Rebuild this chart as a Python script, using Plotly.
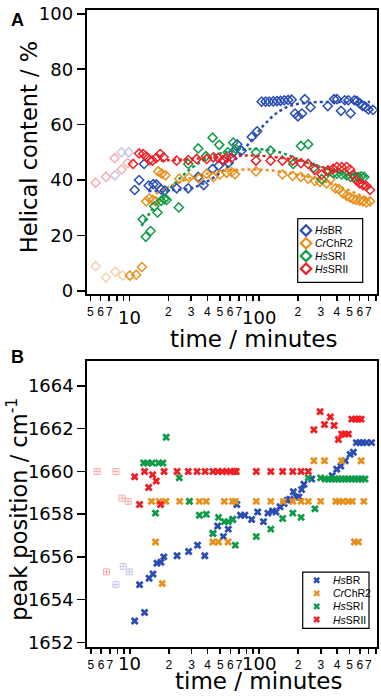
import plotly.graph_objects as go
import math

# ---------------- Panel A data: helical content (%) vs time (min) ----------------
a_br_faded_t = [7.75, 8.7, 9.9]
a_br_faded_v = [41.7, 50.0, 50.0]
a_chr_faded_t = [5.5, 6.6, 7.8, 8.9]
a_chr_faded_v = [8.9, 4.8, 6.9, 5.5]
a_srii_faded_t = [5.5, 6.6, 7.7, 8.7, 9.7]
a_srii_faded_v = [39.0, 41.1, 47.9, 43.8, 46.1]

a_br_t = [11.0, 11.9, 13.0, 14.1, 15.3, 16.2, 17.6, 18.8, 23.2, 28.5, 34, 37.5, 43.9, 49, 53.4, 58.2,
          63.4, 68, 73.5, 88, 97, 105, 112.7, 120, 129, 138, 147, 157, 168, 179, 190, 200, 215, 226,
          250, 340, 380, 400, 430, 460, 490, 510, 545, 570, 600, 630, 665, 700, 760]
a_br_v = [36.4, 40, 45.8, 38, 38.5, 38.4, 36.6, 36.2, 37, 37, 41.1, 38.2, 44, 45.2, 47, 46.2,
          50, 52.9, 50.6, 55.5, 57.6, 68.3, 68.3, 68.3, 68.4, 68.5, 68.6, 68.8, 68.9, 69.0, 64, 63, 64, 69.2,
          66.3, 66.7, 69.2, 69.2, 65, 68.8, 68.8, 64.1, 68.8, 68.6, 67.7, 66.8, 66.4, 65.5, 65.3]

a_chr_t = [10.1, 11.3, 12.5, 13.5, 14.3, 15.2, 16.0, 16.7, 17.8, 19.0, 24.3, 28.9, 34.5, 39.5, 44.5, 50,
           56.4, 61.5, 65.4, 95, 152, 182, 211, 240, 270, 296, 333, 355, 390, 415, 445, 475, 505, 535,
           565, 600, 635, 675, 720]
a_chr_v = [5.5, 5.8, 8.6, 32.3, 33.4, 32.8, 32.3, 43.1, 42.3, 41.7, 40.5, 40.9, 40.5, 42.3, 41.1, 42,
           42.6, 42.9, 42.1, 43.1, 42, 41.5, 41.1, 40.5, 39.7, 39.3, 38.8, 40.2, 37, 36.7, 35.2, 34.3, 33.7, 33.1,
           32.8, 32.6, 32.3, 31.9, 32.3]

a_sri_t = [12.7, 13.4, 14.6, 15.6, 16.5, 17.6, 18.6, 19.4, 24.1, 28.5, 34, 39, 43.9, 49.4, 57.5, 63.4,
           66.5, 95, 123, 184, 211, 240, 265, 305, 342, 375, 400, 435, 475, 510, 545, 585, 615, 650]
a_sri_v = [25.8, 19.5, 21.6, 30.5, 28.3, 32.5, 33.1, 32.8, 30.1, 45.8, 51.4, 48.6, 55.3, 52.7, 50, 53.5,
           51.2, 50, 50.6, 45.8, 52.3, 52.9, 44.4, 40.3, 42.9, 42.5, 42.3, 42, 41.7, 41.1, 41.1, 41.1, 41.3, 41.1]

a_srii_t = [10.7, 11.9, 12.8, 13.6, 14.3, 15.1, 16.2, 17.3, 18.4, 23.2, 28.5, 33.1, 39.5, 44.5, 48.5, 52.9,
            56.4, 61.5, 95, 123, 152, 182, 211, 240, 270, 305, 342, 375, 400, 435, 475, 505, 535, 565,
            600, 635, 675, 720]
a_srii_v = [45.8, 49.6, 49.4, 48.4, 47.2, 47, 48, 49.4, 48.2, 47, 47.2, 47.6, 47.6, 48.2, 48, 47.2,
            48, 48, 47, 47, 47, 47, 46.1, 45.8, 43.7, 42, 43.5, 44, 44.7, 44.7, 44.7, 43.8, 42, 39.9,
            38.8, 38.2, 37.8, 36.4]

# fitted (dotted) guide curves
fit_br_t = [14, 20, 30, 40, 50, 63, 75, 90, 110, 140, 180, 250, 400, 720]
fit_br_v = [36, 36.3, 37, 39.5, 42.5, 46.5, 50.5, 55, 60, 64.5, 67, 68, 68.2, 68.2]
fit_chr_t = [16, 20, 28, 40, 60, 100, 150, 210, 300, 420, 600, 720]
fit_chr_v = [35, 37.5, 40.3, 42.3, 43.5, 43.8, 43, 41.7, 39.9, 37.6, 34.6, 33.2]
fit_sri_t = [12.4, 16.3, 21.8, 31, 44.5, 63, 96, 145, 207, 296, 422, 600, 720]
fit_sri_v = [23.4, 31.7, 38.2, 44.7, 48.8, 50.6, 51.2, 50, 47.3, 44.7, 42.9, 41.7, 41.3]
fit_srii_t = [17.5, 30, 50, 75, 100, 150, 207, 296, 422, 535, 720]
fit_srii_v = [47, 47.6, 48.3, 48.8, 48.8, 48, 47, 44.9, 42.5, 40.5, 37.6]

# ---------------- Panel B data: peak position (cm-1) vs time (min) ----------------
b_br_faded_t = [7.8, 8.9, 9.9]
b_br_faded_v = [1654.7, 1655.55, 1655.3]
b_srii_faded_t = [5.6, 6.6, 7.8, 8.7, 9.7]
b_srii_faded_v = [1660, 1655.3, 1660, 1658.75, 1658.6]

b_br_t = [10.9, 11.9, 13.0, 14.1, 15.1, 16.2, 17.4, 18.3, 23.2, 28.5, 33.4, 38, 43.9, 47.8, 52.9, 57.7,
          62.5, 67.2, 71.8, 77.5, 87.5, 97.5, 108, 117, 127, 135, 145, 156, 165, 173, 184, 194, 203, 213,
          222, 255, 367, 398, 428, 463, 505, 535, 565, 600, 635, 675, 740]
b_br_v = [1653, 1654.7, 1653.4, 1655.0, 1655.2, 1655.7, 1655.75, 1656, 1656.05, 1656.25, 1656.55, 1656.05,
          1657.1, 1657.45, 1656.95, 1657.3, 1657.75, 1658.45, 1657.95, 1657.95, 1657.75, 1658.1, 1657.65,
          1658.05, 1658.15, 1658.1, 1658.35, 1658.5, 1658.65, 1658.7, 1659.05, 1658.8, 1658.8, 1659.15,
          1659.4, 1659.65, 1659.8, 1660.1, 1660.25, 1660.5, 1660.8, 1660.9, 1661.35, 1661.35, 1661.35,
          1661.35, 1661.35]

b_chr_t = [14.7, 15.8, 16.9, 17.8, 19, 24.3, 28.9, 34.5, 39, 43.9, 48.5, 53.8, 57.5, 62.3, 65.4, 95, 123,
           154, 182, 211, 240, 265, 299, 320, 392, 415, 435, 445, 490, 525, 545, 585, 615, 645]
b_chr_v = [1658.6, 1656.7, 1658.6, 1654.75, 1658.6, 1658.6, 1658.6, 1658.6, 1658.6, 1656.7, 1656.7,
           1658.6, 1656.7, 1658.6, 1658.6, 1658.6, 1658.6, 1658.6, 1658.6, 1658.6, 1658.6, 1660.5, 1658.6,
           1660.5, 1658.6, 1658.6, 1660.5, 1658.6, 1658.6, 1658.6, 1656.7, 1656.7, 1660.5, 1658.6]

b_sri_t = [12.8, 13.7, 14.9, 15.8, 16.7, 18.0, 19.1, 24.1, 28.9, 34.5, 39, 43.9, 48.5, 53.8, 57.7, 62.3,
           65.4, 95, 123, 152, 182, 211, 240, 270, 299, 323, 343, 364, 386, 410, 435, 461, 490, 520,
           551, 585, 621, 658]
b_sri_v = [1660.4, 1660.4, 1660.4, 1658.05, 1660.4, 1660.4, 1661.6, 1659.7, 1658.6, 1657.95, 1658.0,
           1657.1, 1657.85, 1657.65, 1657.65, 1657.75, 1656.55, 1656.95, 1657.3, 1657.8, 1658.05, 1657.85,
           1659.7, 1658.25, 1659.7, 1659.65, 1659.65, 1659.65, 1659.65, 1659.65, 1659.65, 1659.65, 1659.65,
           1659.65, 1659.65, 1659.65, 1659.65, 1659.65]

b_srii_t = [10.9, 11.9, 13.0, 14.0, 15.0, 16.0, 17.3, 18.4, 23.2, 28.3, 33.1, 38.2, 43.9, 48.0, 52.0, 56.0,
            60.0, 64.0, 66.5, 95, 123, 152, 182, 211, 240, 265, 296, 320, 355, 380, 410, 435, 460, 490,
            520, 555, 585, 615]
b_srii_v = [1659.75, 1658.45, 1660, 1659.25, 1659.85, 1659.55, 1658.45, 1660, 1660, 1660, 1660, 1660,
            1660, 1660, 1660, 1660, 1660, 1660, 1660, 1660, 1660, 1660, 1660, 1660, 1660, 1661.95, 1662.8,
            1662.2, 1662.55, 1662.15, 1661.5, 1661.75, 1661.75, 1661.75, 1662.45, 1662.45, 1662.45, 1662.45]

# ---------------- labels / ticks ----------------
series_names = ["<i>Hs</i>BR", "<i>Cr</i>ChR2", "<i>Hs</i>SRI", "<i>Hs</i>SRII"]
colors = ["#2a4db3", "#e8901e", "#0e9c48", "#f01e24"]
faded = {"br": "#c3c9e8", "chr": "#f6d2ad", "srii": "#f8aeae"}
x_tickvals = [5, 6, 7, 8, 9, 10, 20, 30, 40, 50, 60, 70, 80, 90, 100, 200, 300, 400, 500, 600, 700, 800]
x_ticktext = ["5", "6", "7", "", "", "", "2", "3", "4", "5", "6", "7", "", "", "", "2", "3", "4", "5", "6", "7", ""]
major_ticks = [10, 100]
a_yticks = [0, 20, 40, 60, 80, 100]
b_yticks = [1652, 1654, 1656, 1658, 1660, 1662, 1664]

FONT = "DejaVu Sans"
LFONT = "Liberation Sans"
W, H = 381, 700
fig = go.Figure()

# ---------- Panel A ----------
for t, v, c in [(a_br_faded_t, a_br_faded_v, faded["br"]),
                (a_chr_faded_t, a_chr_faded_v, faded["chr"]),
                (a_srii_faded_t, a_srii_faded_v, faded["srii"])]:
    fig.add_trace(go.Scatter(x=t, y=v, mode="markers", xaxis="x", yaxis="y", showlegend=False,
                             marker=dict(symbol="diamond-open", size=7, color=c, line=dict(width=1.5, color=c))))

for (ft, fv, c) in [(fit_br_t, fit_br_v, colors[0]), (fit_chr_t, fit_chr_v, colors[1]),
                    (fit_sri_t, fit_sri_v, colors[2]), (fit_srii_t, fit_srii_v, colors[3])]:
    fig.add_trace(go.Scatter(x=ft, y=fv, mode="lines", xaxis="x", yaxis="y", showlegend=False,
                             line=dict(color=c, width=2.5, dash="dot", shape="spline")))

a_series = [(a_br_t, a_br_v), (a_chr_t, a_chr_v), (a_sri_t, a_sri_v), (a_srii_t, a_srii_v)]
for i, (t, v) in enumerate(a_series):
    fig.add_trace(go.Scatter(x=t, y=v, mode="markers", xaxis="x", yaxis="y", name=series_names[i],
                             showlegend=False,
                             marker=dict(symbol="diamond-open", size=7, color=colors[i],
                                         line=dict(width=1.5, color=colors[i]))))

# ---------- Panel B ----------
for t, v, c in [(b_br_faded_t, b_br_faded_v, faded["br"]), (b_srii_faded_t, b_srii_faded_v, faded["srii"])]:
    fig.add_trace(go.Scatter(x=t, y=v, mode="markers", xaxis="x2", yaxis="y2", showlegend=False,
                             marker=dict(symbol="square-cross-open", size=6, color=c, line=dict(width=1, color=c))))

b_series = [(b_br_t, b_br_v), (b_chr_t, b_chr_v), (b_sri_t, b_sri_v), (b_srii_t, b_srii_v)]
for i, (t, v) in enumerate(b_series):
    fig.add_trace(go.Scatter(x=t, y=v, mode="markers", xaxis="x2", yaxis="y2", name=series_names[i],
                             showlegend=False,
                             marker=dict(symbol="x", size=7, color=colors[i], line=dict(width=0))))

# ---------- legends (boxed keys, laid out in pixels on a transparent overlay axis) ----------
legA = dict(box=(297.7, 216, 362.7, 281), mx=306, tx=313, rows=[228, 241, 254, 267],
            symbol="diamond-open", size=8, lw=2.2)
legB = dict(box=(302.7, 576.7, 369, 634), mx=316.7, tx=330.5, rows=[585, 598.3, 611.7, 625],
            symbol="x", size=6, lw=0)
shapes = []
ann = []
for lg in (legA, legB):
    x0, y0, x1, y1 = lg["box"]
    shapes.append(dict(type="rect", xref="paper", yref="paper", x0=x0 / W, x1=x1 / W,
                       y0=1 - y1 / H, y1=1 - y0 / H, line=dict(color="black", width=1.2),
                       fillcolor="rgba(0,0,0,0)", layer="above"))
    for i, ry in enumerate(lg["rows"]):
        fig.add_trace(go.Scatter(x=[lg["mx"]], y=[ry], mode="markers", xaxis="x3", yaxis="y3",
                                 showlegend=False, hoverinfo="skip",
                                 marker=dict(symbol=lg["symbol"], size=lg["size"], color=colors[i],
                                             line=dict(width=lg["lw"], color=colors[i]))))
        ann.append(dict(x=lg["tx"] / W, y=1 - ry / H, xref="paper", yref="paper", text=series_names[i],
                        showarrow=False, xanchor="left", yanchor="middle",
                        font=dict(family=LFONT, size=10.5, color="black")))

xr = [math.log10(4.69), math.log10(811)]
xcommon = dict(type="log", range=xr, tickmode="array", tickvals=x_tickvals, ticktext=x_ticktext,
               ticks="outside", ticklen=5, tickwidth=1.5, tickcolor="black", tickangle=0,
               showline=True, linewidth=2, linecolor="black", mirror=True, showgrid=False, zeroline=False,
               tickfont=dict(family=LFONT, size=12, color="black"), ticklabeloverflow="allow")
ycommon = dict(ticks="outside", ticklen=8, tickwidth=1.5, tickcolor="black", showline=True, linewidth=2,
               linecolor="black", mirror=True, showgrid=False, zeroline=False, ticklabeloverflow="allow",
               tickfont=dict(family=FONT, size=18, color="black"))

fig.update_layout(
    width=W, height=H, margin=dict(l=0, r=0, t=0, b=0),
    paper_bgcolor="white", plot_bgcolor="rgba(0,0,0,0)", showlegend=False,
    xaxis=dict(domain=[86.7 / W, 376.7 / W], anchor="y", **xcommon),
    yaxis=dict(domain=[1 - 293.3 / H, 1 - 3.3 / H], anchor="x", range=[-1.3, 101.3],
               tickvals=a_yticks, **ycommon),
    xaxis2=dict(domain=[87.3 / W, 376.7 / W], anchor="y2", **xcommon),
    yaxis2=dict(domain=[1 - 653.3 / H, 1 - 361.7 / H], anchor="x2", range=[1651.77, 1665.15],
                tickvals=b_yticks, **ycommon),
    xaxis3=dict(domain=[0, 1], range=[0, W], visible=False, fixedrange=True, anchor="y3"),
    yaxis3=dict(domain=[0, 1], range=[H, 0], visible=False, fixedrange=True, anchor="x3"),
    font=dict(family=FONT, color="black"),
)

# major decade labels
for xa, ypix in [("x", 316.5), ("x2", 670)]:
    for mv in major_ticks:
        ann.append(dict(x=math.log10(mv), y=1 - ypix / H, xref=xa, yref="paper", text=str(mv),
                        showarrow=False, font=dict(family=FONT, size=18, color="black"),
                        xanchor="center", yanchor="middle"))
# axis titles
ann.append(dict(x=253 / W, y=1 - 339 / H, xref="paper", yref="paper", text="time / minutes", showarrow=False,
                font=dict(family=FONT, size=23, color="black"), xanchor="center", yanchor="middle"))
ann.append(dict(x=258 / W, y=1 - 688 / H, xref="paper", yref="paper", text="time / minutes", showarrow=False,
                font=dict(family=FONT, size=23, color="black"), xanchor="center", yanchor="middle"))
ann.append(dict(x=29 / W, y=1 - 143 / H, xref="paper", yref="paper", text="Helical content / %", showarrow=False,
                textangle=-90, font=dict(family=FONT, size=22.5, color="black"), xanchor="center", yanchor="middle"))
ann.append(dict(x=17 / W, y=1 - 513 / H, xref="paper", yref="paper",
                text="peak position / cm<sup>-1</sup>",
                showarrow=False, textangle=-90, font=dict(family=FONT, size=22.5, color="black"),
                xanchor="center", yanchor="middle"))
# panel letters
ann.append(dict(x=17 / W, y=1 - 13 / H, xref="paper", yref="paper", text="<b>A</b>", showarrow=False,
                font=dict(family=LFONT, size=18, color="black"), xanchor="center", yanchor="middle"))
ann.append(dict(x=17 / W, y=1 - 357 / H, xref="paper", yref="paper", text="<b>B</b>", showarrow=False,
                font=dict(family=LFONT, size=18, color="black"), xanchor="center", yanchor="middle"))
fig.update_layout(annotations=ann, shapes=shapes)

fig.write_html("out.html", config={"displayModeBar": False, "staticPlot": True},
               post_script="document.body.style.margin='0';document.body.style.overflow='hidden';")
